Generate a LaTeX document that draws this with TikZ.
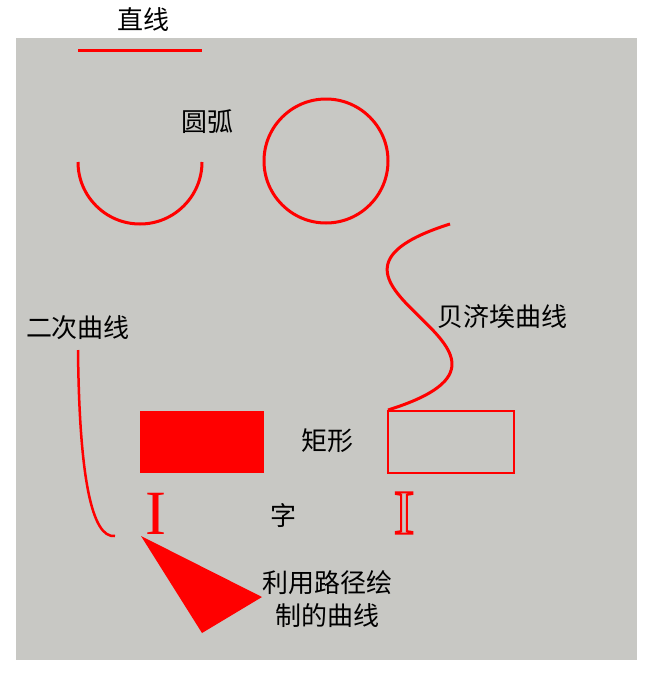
\documentclass[tikz,border=0pt]{standalone}
\usepackage{fontspec}
\newfontfamily\cjk{Noto Sans CJK SC}
\newfontfamily\seriffont{Liberation Serif}
\definecolor{canvasgray}{RGB}{200,200,196}
\tikzset{
  redline/.style = {red, line width=3pt},
  cnlabel/.style = {font=\cjk\fontsize{26}{33}\selectfont, inner sep=0pt, align=center},
  bigletter/.style = {font=\seriffont\fontsize{63}{63}\selectfont, inner sep=0pt, red}
}

\begin{document}
\begin{tikzpicture}[x=1pt, y=-1pt]
            \useasboundingbox (0,0) rectangle (654,678);
            \fill[canvasgray] (16,38) rectangle (637,660);

            % line and arcs
            \draw[redline] (78,50) -- (202,50);
            \draw[redline] (78,162) arc (180:0:62);
            \draw[redline] (326,161) circle (62);

            % curves
            \draw[redline] (450,224) .. controls (260,284) and (580,350) .. (388,410);
            \draw[red, line width=2.5pt] (78,350) .. controls (79.3,476.7) and (91.7,538.7) .. (115,536);

            % rectangles
            \fill[red] (140,411) rectangle (264,473);
            \draw[red, line width=2.5pt] (388,411) rectangle (514,473);

            % path
            \fill[red] (141,536) -- (262,597) -- (202,633) -- cycle;

            % letters
            \node[bigletter] (fillI) at (156,514) {I};
            \node[bigletter] (strokeI) at (404,513) {\special{pdf:code 1 Tr 2 w}I\special{pdf:code 0 Tr}};

            % labels
            \node[cnlabel] (zhixian) at (143,20) {直线};
            \node[cnlabel] (yuanhu) at (207,122) {圆弧};
            \node[cnlabel] (beiji) at (502,317) {贝济埃曲线};
            \node[cnlabel] (erci) at (78,328) {二次曲线};
            \node[cnlabel] (juxing) at (327,441) {矩形};
            \node[cnlabel] (zi) at (283,516) {字};
            \node[cnlabel] (lujing) at (327,599) {利用路径绘\\制的曲线};
        \end{tikzpicture}
\end{document}
